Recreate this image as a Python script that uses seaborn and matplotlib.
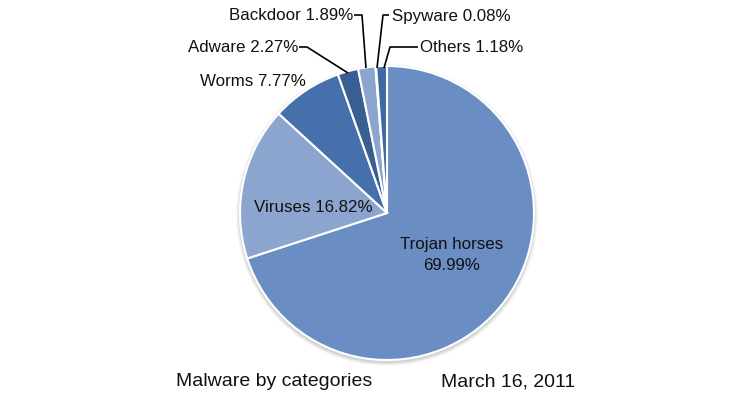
import matplotlib
matplotlib.use("Agg")
import matplotlib.pyplot as plt
import seaborn as sns
import numpy as np

categories = ["Trojan horses", "Viruses", "Worms", "Adware", "Backdoor", "Spyware", "Others"]
shares = [69.99, 16.82, 7.77, 2.27, 1.89, 0.08, 1.18]
colors = ["#6a8ec4", "#8ca5cf", "#4570ab", "#395e92", "#8ca5cf", "#5a7eb8", "#3e69a4"]

sns.set_theme(style="white")
plt.rcParams['font.family'] = ['Liberation Sans', 'DejaVu Sans']

fig = plt.figure(figsize=(7.5, 4), dpi=100)
ax = fig.add_axes([0, 0, 1, 1])
H = 400
cx, cy, r = 387, H - 213, 147

# soft shadow ring
for i, a in enumerate([0.05, 0.08, 0.10, 0.12]):
    ax.add_patch(plt.Circle((cx, cy - 2), r + 4 - i, color="#777777", alpha=a, lw=0, zorder=0))

wedges, _ = ax.pie(shares, colors=colors, startangle=90, counterclock=False,
                   center=(cx, cy), radius=r,
                   wedgeprops=dict(edgecolor="white", linewidth=1.5), frame=True)
ax.set_xlim(0, 750)
ax.set_ylim(0, H)
ax.set_aspect("equal")
ax.axis("off")

fs = 12.2
tc = "#111111"
lab = {c: f"{c} {v:.2f}%" for c, v in zip(categories, shares)}
ax.text(452, H - 255, f"Trojan horses\n{shares[0]:.2f}%", ha="center", va="center",
        fontsize=fs, color=tc, linespacing=1.45)
ax.text(313, H - 208, lab["Viruses"], ha="center", va="center", fontsize=fs, color=tc)
ax.text(200, H - 82, lab["Worms"], ha="left", va="center", fontsize=fs, color=tc)
ax.text(188, H - 47, lab["Adware"], ha="left", va="center", fontsize=fs, color=tc)
ax.text(229, H - 16, lab["Backdoor"], ha="left", va="center", fontsize=fs, color=tc)
ax.text(392, H - 16, lab["Spyware"], ha="left", va="center", fontsize=fs, color=tc)
ax.text(420, H - 47, lab["Others"], ha="left", va="center", fontsize=fs, color=tc)

lk = dict(color="black", lw=1.2, solid_capstyle="butt")
ax.plot([299, 307, 348], [H - 47, H - 47, H - 73], **lk)
ax.plot([354, 362, 366], [H - 15, H - 15, H - 68], **lk)
ax.plot([389, 383, 377], [H - 15, H - 15, H - 68], **lk)
ax.plot([418, 390, 384], [H - 47, H - 47, H - 68], **lk)

ax.text(176, H - 382, "Malware by categories", ha="left", va="center", fontsize=14, color=tc)
ax.text(575, H - 382, "March 16, 2011", ha="right", va="center", fontsize=14, color=tc)

fig.savefig("out.png", dpi=100)
